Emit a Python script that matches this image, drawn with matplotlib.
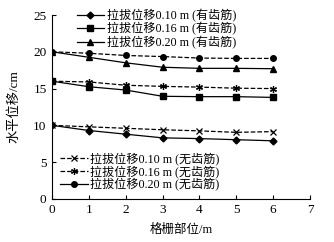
import matplotlib
matplotlib.use("Agg")
from matplotlib import pyplot as plt
from matplotlib.lines import Line2D

plt.rcParams['font.family'] = ['Liberation Serif', 'Noto Sans CJK SC']
plt.rcParams['mathtext.fontset'] = 'stix'

# grid position (m)
positions = [0, 1, 2, 3, 4, 5, 6]

# with teeth (solid)
ribbed_010 = [10.0, 9.3, 8.8, 8.3, 8.2, 8.05, 7.9]
ribbed_016 = [16.0, 15.25, 14.8, 13.95, 13.9, 13.9, 13.8]
ribbed_020 = [20.0, 19.25, 18.5, 17.9, 17.75, 17.75, 17.7]

# without teeth (dashed)
plain_010 = [10.0, 9.8, 9.6, 9.4, 9.25, 9.05, 9.15]
plain_016 = [16.0, 15.9, 15.45, 15.3, 15.2, 15.05, 15.0]
plain_020 = [20.0, 19.8, 19.5, 19.35, 19.15, 19.1, 19.1]

labelsRibbed = ["拉拔位移0.10 m (有齿筋)", "拉拔位移0.16 m (有齿筋)", "拉拔位移0.20 m (有齿筋)"]
labelsPlain = ["拉拔位移0.10 m (无齿筋)", "拉拔位移0.16 m (无齿筋)", "拉拔位移0.20 m (无齿筋)"]

fig = plt.figure(figsize=(3.34, 2.42), dpi=100)
ax = fig.add_axes([0.156, 0.178, 0.772, 0.76])

lw = 0.9
ms = 4
h1, = ax.plot(positions, ribbed_010, '-', color='black', lw=lw, marker='D', ms=3.5)
h2, = ax.plot(positions, ribbed_016, '-', color='black', lw=lw, marker='s', ms=ms)
h3, = ax.plot(positions, ribbed_020, '-', color='black', lw=lw, marker='^', ms=ms)
h4, = ax.plot(positions, plain_010, '--', color='black', lw=lw, marker='x', ms=ms, mew=0.9)
h5, = ax.plot(positions, plain_016, '--', color='black', lw=lw, marker=(6, 2, 0), ms=5, mew=0.9)
ax.plot(positions, plain_020, '--', color='black', lw=lw, marker='o', ms=ms)
# the legend of the reference shows a solid line for this one
h6 = Line2D([], [], color='black', lw=lw, marker='o', ms=ms)

ax.set_xlim(0, 7)
ax.set_ylim(0, 25)
ax.set_xticks(range(0, 8))
ax.set_yticks(range(0, 26, 5))
ax.spines['top'].set_visible(False)
ax.spines['right'].set_visible(False)
ax.tick_params(direction='in', length=3, width=0.8, labelsize=9.5, pad=4)
ax.set_xlabel("格栅部位/m", fontsize=9, labelpad=5)
ax.set_ylabel("水平位移/cm", fontsize=9.5, labelpad=9)

leg1 = ax.legend([h1, h2, h3], labelsRibbed, loc='upper left', bbox_to_anchor=(0.095, 1.03),
                 frameon=False, fontsize=8.7, handlelength=2.3, handletextpad=0.2,
                 labelspacing=0.0, borderpad=0, borderaxespad=0)
ax.add_artist(leg1)
ax.legend([h4, h5, h6], labelsPlain, loc='upper left', bbox_to_anchor=(0.03, 0.255),
          frameon=False, fontsize=8.7, handlelength=2.3, handletextpad=0.2,
          labelspacing=0.0, borderpad=0, borderaxespad=0)

fig.savefig("out.png", dpi=100)
